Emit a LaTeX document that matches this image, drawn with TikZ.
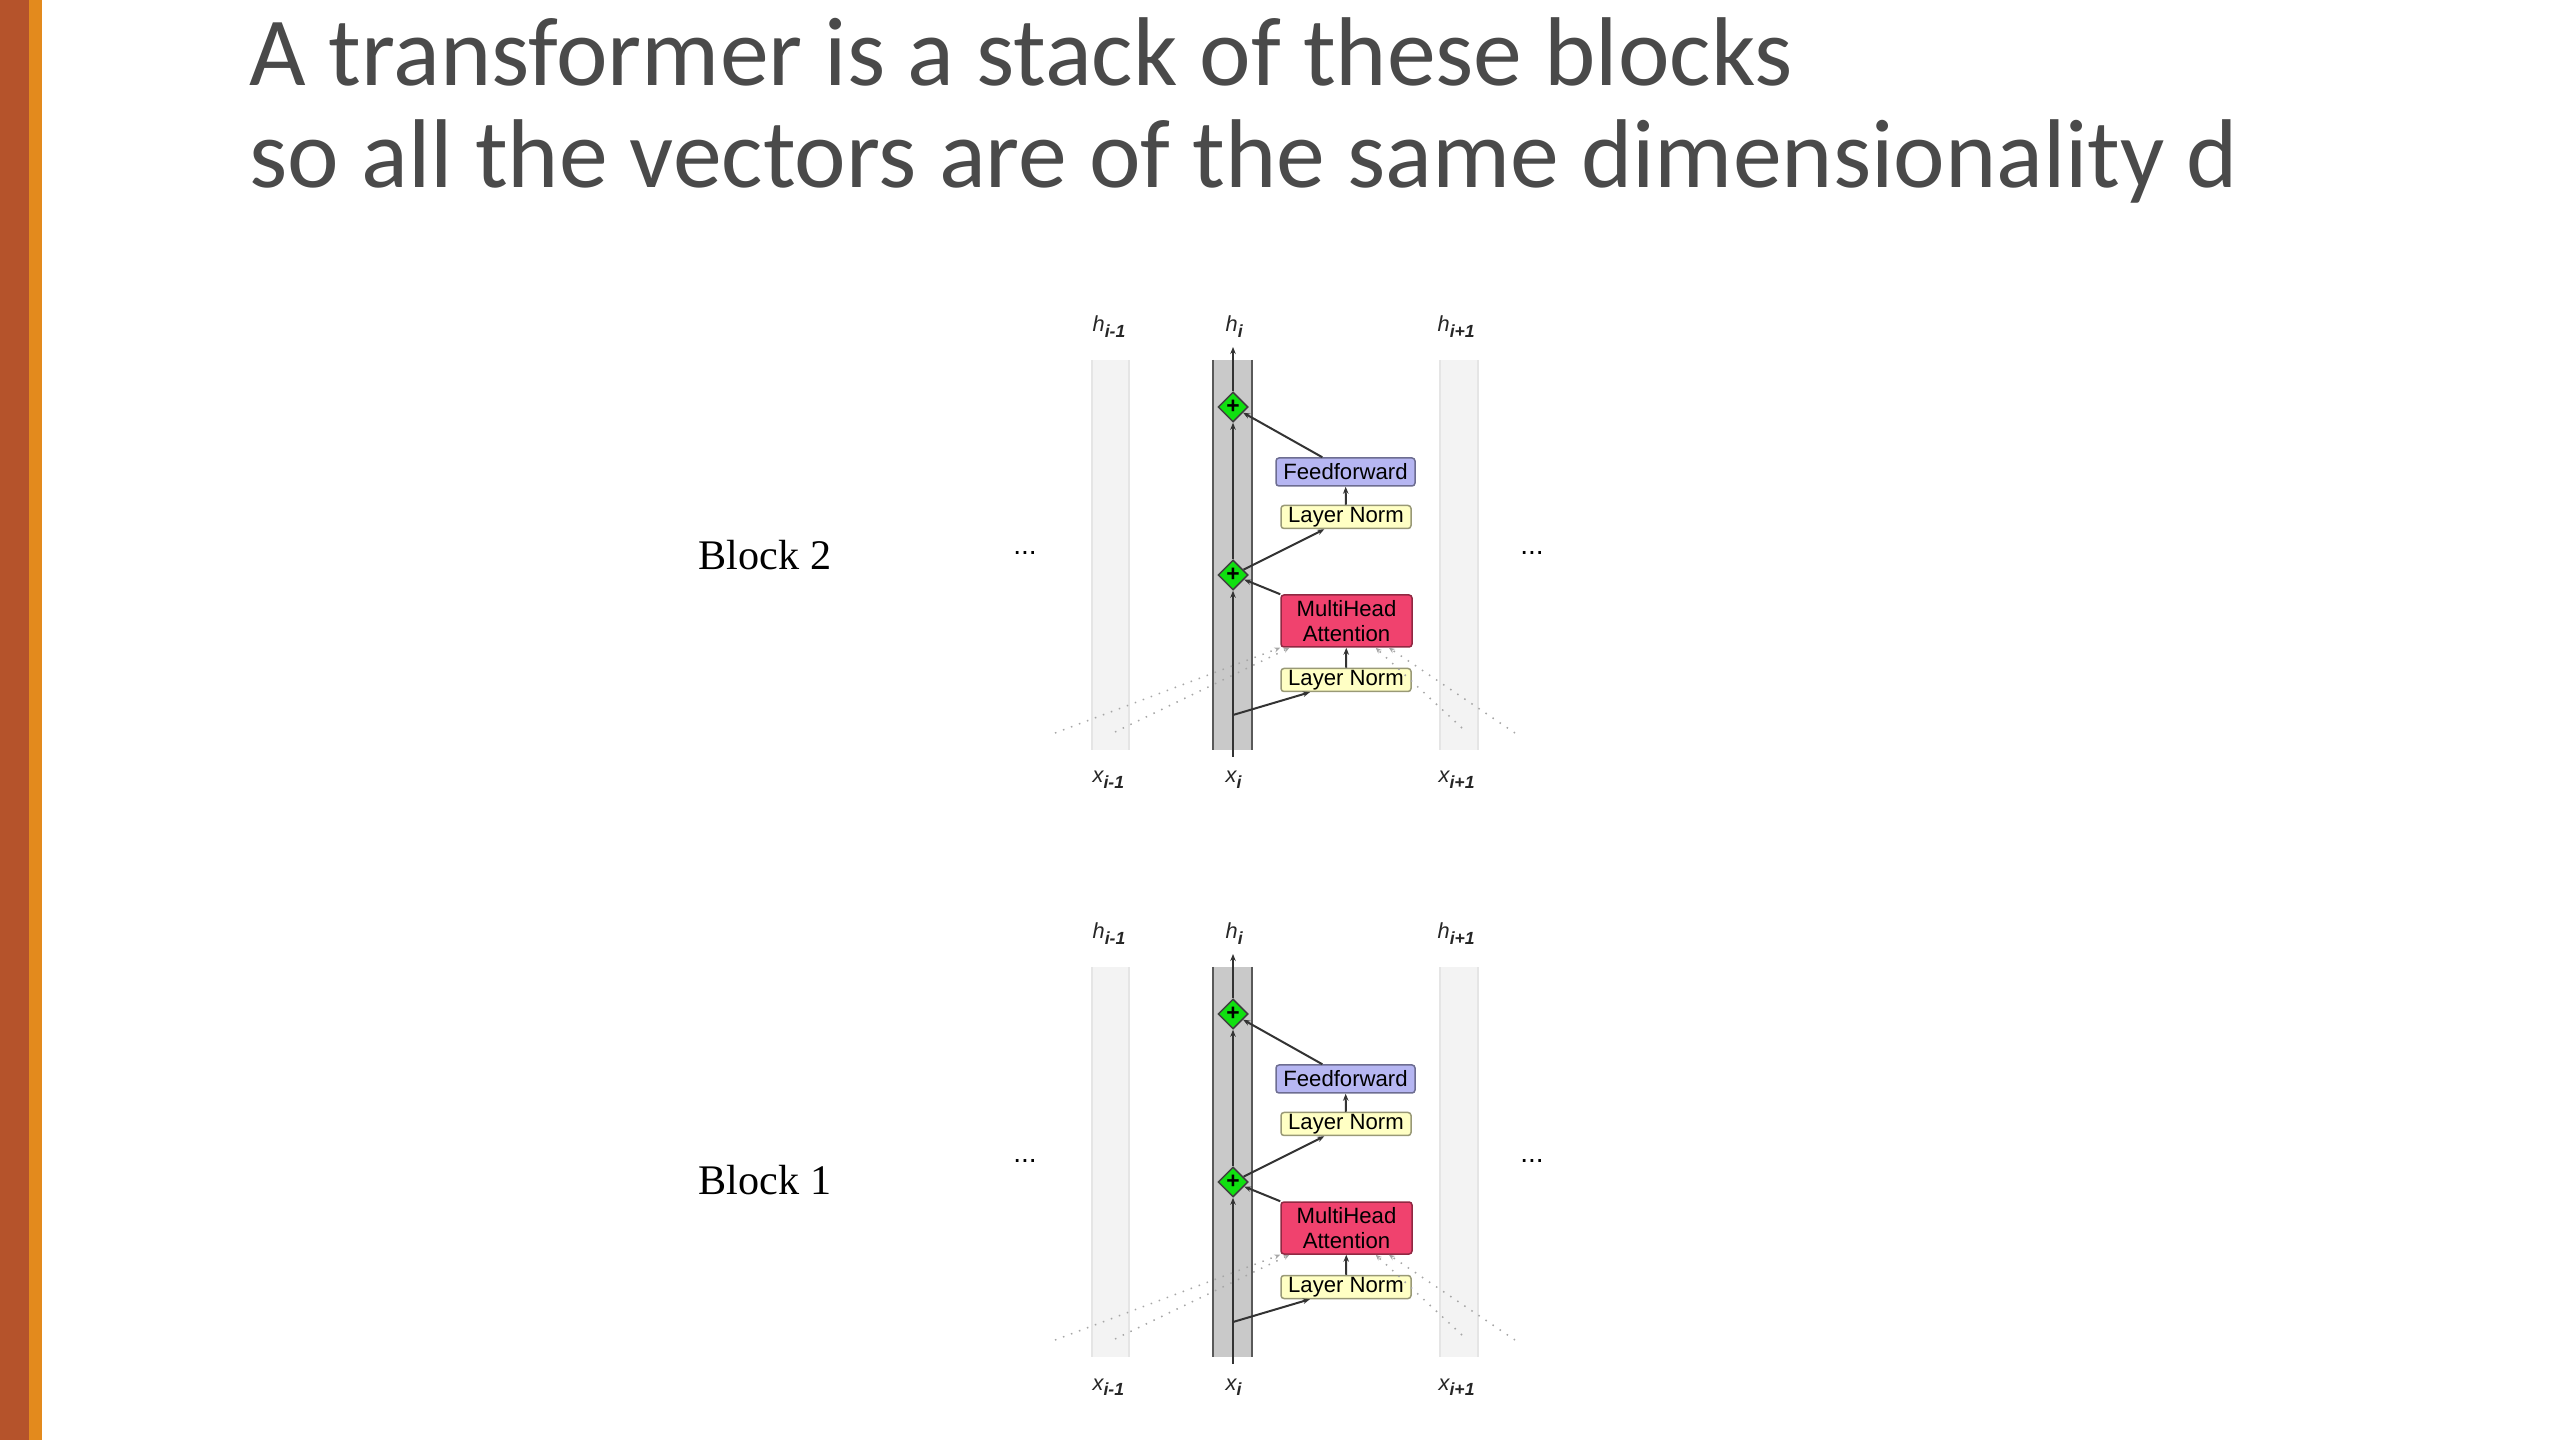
\documentclass[tikz,border=0pt]{standalone}
\usepackage{fontspec}
\setmainfont{Liberation Serif}
\setsansfont{Liberation Sans}
\newfontfamily\titlefont{Carlito}
\usepackage{xcolor}
\usetikzlibrary{shapes.geometric, arrows.meta, calc}

\definecolor{barred}{HTML}{B5532B}
\definecolor{barorange}{HTML}{E38A1D}
\definecolor{titlegray}{HTML}{4A4A4A}
\definecolor{ffblue}{HTML}{B6B6F2}
\definecolor{normyellow}{HTML}{FFFFC4}
\definecolor{attnred}{HTML}{F0426E}
\definecolor{plusgreen}{HTML}{10E010}
\definecolor{colgray}{HTML}{C9C9C9}
\definecolor{sidegray}{HTML}{F3F3F3}

\newcommand{\veclab}[2]{\itshape #1\raisebox{-0.45ex}{\fontsize{5}{5}\selectfont\bfseries\itshape #2}}

\begin{document}
\begin{tikzpicture}[
    x=0.1mm, y=-0.1mm,
    every node/.style={font=\sffamily\fontsize{6.3}{7.1}\selectfont, inner sep=0pt},
    layerbox/.style={draw=#1!60!black, fill=#1, rounded corners=0.3mm, line width=0.15mm, align=center},
    ffbox/.style={layerbox=ffblue, minimum width=13.9mm, minimum height=2.8mm},
    normbox/.style={layerbox=normyellow, minimum width=13mm, minimum height=2.3mm},
    attnbox/.style={layerbox=attnred, minimum width=13.1mm, minimum height=5.2mm},
    plusnode/.style={shape=diamond, draw=black!75, fill=plusgreen, line width=0.15mm, minimum width=3mm, minimum height=3mm, font=\sffamily\bfseries\fontsize{6.5}{6.5}\selectfont},
    conn/.style={draw=black!80, line width=0.2mm, -{Stealth[length=0.7mm, width=0.55mm]}},
    attnlink/.style={draw=black!35, dotted, line width=0.15mm, -{Stealth[length=0.6mm, width=0.5mm]}},
    veclabel/.style={anchor=base west, font=\sffamily\fontsize{6.2}{7}\selectfont, text=black!85},
  ]
  \useasboundingbox (0,0) rectangle (2560,1440);

  % slide edge bars
  \fill[barred] (0,0) rectangle (29,1440);
  \fill[barorange] (29,0) rectangle (42,1440);

  % title
  \node[anchor=base west, text=titlegray, font=\titlefont\fontsize{27.8}{30}\selectfont] (title1) at (249,86) {A transformer is a stack of these blocks};
  \node[anchor=base west, text=titlegray, font=\titlefont\fontsize{27.8}{30}\selectfont] (title2) at (249,188) {so all the vectors are of the same dimensionality d};

  \foreach \b/\oy/\ly in {2/0/570, 1/607/587}{
  \begin{scope}[shift={(0,\oy)}]
    % columns
    \fill[sidegray] (1092,360) rectangle (1129,750);
    \fill[sidegray] (1440,360) rectangle (1478,750);
    \draw[black!10, line width=0.15mm] (1092,360) -- (1092,750) (1129,360) -- (1129,750);
    \draw[black!10, line width=0.15mm] (1440,360) -- (1440,750) (1478,360) -- (1478,750);
    \fill[colgray] (1213,360) rectangle (1252,750);
    \draw[black!65, line width=0.2mm] (1213,360) -- (1213,750) (1252,360) -- (1252,750);

    % labels
    \node[anchor=base west, font=\rmfamily\fontsize{12}{14}\selectfont] (block\b) at (698,\ly) {Block \b};
    \node[anchor=base, font=\sffamily\fontsize{8}{8}\selectfont] (dotsl\b) at (1025,555) {...};
    \node[anchor=base, font=\sffamily\fontsize{8}{8}\selectfont] (dotsr\b) at (1532,555) {...};
    \node[veclabel] (hl\b) at (1092,332) {\veclab{h}{i-1}};
    \node[veclabel] (hc\b) at (1225,332) {\veclab{h}{i}};
    \node[veclabel] (hr\b) at (1437,332) {\veclab{h}{i+1}};
    \node[veclabel] (xl\b) at (1092,783) {\veclab{x}{i-1}};
    \node[veclabel] (xc\b) at (1225,783) {\veclab{x}{i}};
    \node[veclabel] (xr\b) at (1438,783) {\veclab{x}{i+1}};

    % block components
    \node[plusnode] (plusa\b) at (1233,407) {+};
    \node[plusnode] (plusb\b) at (1233,575) {+};
    \node[ffbox] (ff\b) at (1345.5,472) {Feedforward};
    \node[normbox] (lnb\b) at (1346,517) {Layer Norm};
    \node[attnbox] (mha\b) at (1346.5,621) {MultiHead\\Attention};
    \node[normbox] (lna\b) at (1346,680) {Layer Norm};

    \coordinate (in\b) at (1233,757);
    \coordinate (out\b) at (1233,347);
    \coordinate (split\b) at (1233,715);
    \coordinate (farl\b) at (1055,733);
    \coordinate (nearl\b) at (1115,732);
    \coordinate (nearr\b) at (1462,728);
    \coordinate (farr\b) at (1515,733);

    % residual stream
    \draw[conn] (in\b) -- (plusb\b);
    \draw[conn] (plusb\b) -- (plusa\b);
    \draw[conn] (plusa\b) -- (out\b);

    % sublayers
    \draw[conn] (split\b) -- ($(lna\b.south)!0.55!(lna\b.south west)$);
    \draw[conn] (lna\b) -- (mha\b);
    \draw[conn] (mha\b.north west) -- (plusb\b);
    \draw[conn] (plusb\b) -- ($(lnb\b.south)!0.33!(lnb\b.south west)$);
    \draw[conn] (lnb\b) -- (ff\b);
    \draw[conn] ($(ff\b.north)!0.33!(ff\b.north west)$) -- (plusa\b);

    % attention to neighbours
    \draw[attnlink] (farl\b) -- (mha\b.south west);
    \draw[attnlink] (nearl\b) -- ($(mha\b.south west)!0.07!(mha\b.south east)$);
    \draw[attnlink] (nearr\b) -- ($(mha\b.south west)!0.72!(mha\b.south east)$);
    \draw[attnlink] (farr\b) -- ($(mha\b.south west)!0.82!(mha\b.south east)$);
  \end{scope}}
\end{tikzpicture}
\end{document}
